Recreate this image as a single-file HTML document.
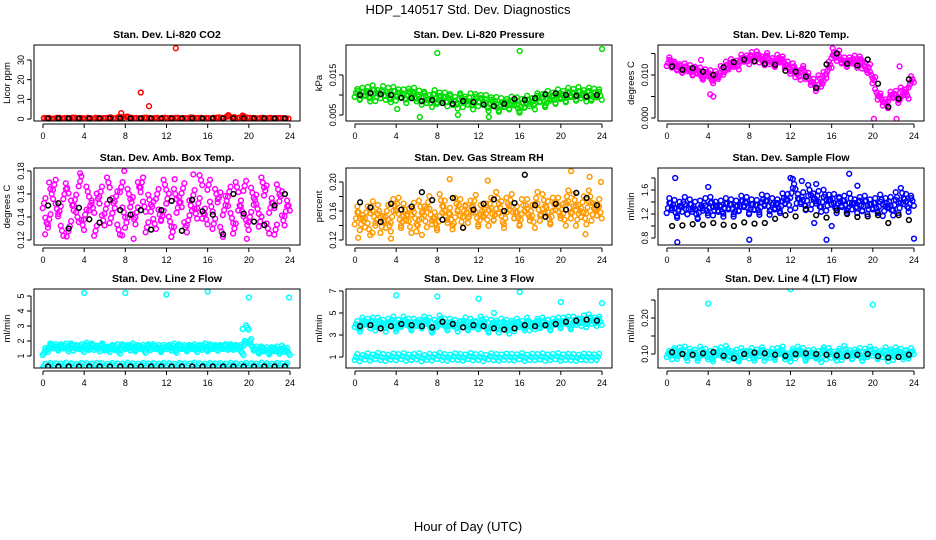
<!DOCTYPE html>
<html><head><meta charset="utf-8"><style>
body{margin:0;background:#fff}
svg{display:block;font-family:"Liberation Sans",sans-serif}
</style></head><body>
<svg id="c" width="936" height="540" viewBox="0 0 936 540">
<text x="468" y="14" text-anchor="middle" font-size="13">HDP_140517  Std. Dev. Diagnostics</text>
<text x="468" y="531" text-anchor="middle" font-size="13">Hour of Day (UTC)</text>
</svg>
<script>
// ---- data ----
const co2A=[0.3,0.5,0.2,0.6,0.4,0.3,0.7,0.5,0.2,0.4,0.6,0.3,0.5,0.8,0.4,0.9,1.2,0.6,0.5,0.4,0.7,0.3,0.6,0.5,0.4,0.3,0.6,0.5,0.4,0.7,0.5,0.3,0.4,0.6,0.8,0.5,1.4,0.9,0.7,1.1,0.6,0.4,0.5,0.3,0.6,0.4,0.5,0.3];
const co2B=[0.4,0.2,0.6,0.3,0.5,0.7,0.3,0.4,0.6,0.2,0.5,0.4,0.7,0.3,1.0,0.6,0.8,0.4,0.3,0.6,0.5,0.4,0.2,0.7,0.5,0.6,0.3,0.4,0.8,0.4,0.6,0.5,0.3,0.7,0.6,1.2,0.8,0.5,1.0,0.7,0.5,0.3,0.6,0.4,0.3,0.5,0.4,0.2];
const co2K=[0.3,0.3,0.3,0.3,0.3,0.3,0.3,0.3,0.3,0.3,0.3,0.3,0.3,0.3,0.3,0.3,0.3,0.3,0.3,0.3,0.3,0.3,0.3,0.3];
const co2OX=[0.1,7.6,8.2,9.5,10.3,12.9,18,19.4];
const co2OY=[0.5,3,1.2,13.5,6.5,36,2,1.8];

const prA=[0.0105,0.0098,0.0110,0.0102,0.0095,0.0112,0.0108,0.0100,0.0096,0.0104,0.0099,0.0108,0.0101,0.0094,0.0090,0.0102,0.0088,0.0096,0.0092,0.0085,0.0090,0.0080,0.0094,0.0086,0.0082,0.0090,0.0078,0.0085,0.0072,0.0080,0.0076,0.0084,0.0070,0.0078,0.0082,0.0088,0.0092,0.0080,0.0096,0.0090,0.0100,0.0094,0.0105,0.0098,0.0102,0.0108,0.0096,0.0104];
const prB=[0.0100,0.0108,0.0094,0.0114,0.0102,0.0098,0.0092,0.0110,0.0104,0.0090,0.0106,0.0094,0.0086,0.0098,0.0080,0.0092,0.0096,0.0082,0.0088,0.0076,0.0094,0.0086,0.0074,0.0092,0.0090,0.0070,0.0084,0.0068,0.0082,0.0074,0.0086,0.0066,0.0080,0.0088,0.0074,0.0094,0.0084,0.0100,0.0088,0.0104,0.0092,0.0108,0.0096,0.0110,0.0094,0.0100,0.0106,0.0098];
const prK=[0.0100,0.0105,0.0102,0.0100,0.0093,0.0092,0.0085,0.0087,0.0080,0.0078,0.0085,0.0082,0.0076,0.0072,0.0078,0.0090,0.0088,0.0092,0.0102,0.0104,0.0100,0.0098,0.0096,0.0100];
const prOX=[8,16,24,6.3,13,10,4.1];
const prOY=[0.0205,0.021,0.0215,0.0045,0.0045,0.005,0.0065];

const tpA=[0.0128,0.0124,0.0118,0.0112,0.0116,0.0108,0.0110,0.0100,0.0104,0.0094,0.0098,0.0108,0.0120,0.0126,0.0132,0.0138,0.0146,0.0140,0.0136,0.0144,0.0132,0.0128,0.0136,0.0124,0.0110,0.0102,0.0114,0.0098,0.0084,0.0070,0.0080,0.0110,0.0146,0.0150,0.0134,0.0128,0.0138,0.0130,0.0122,0.0118,0.0088,0.0050,0.0036,0.0046,0.0056,0.0042,0.0060,0.0078];
const tpB=[0.0134,0.0120,0.0114,0.0120,0.0106,0.0112,0.0096,0.0106,0.0088,0.0102,0.0114,0.0124,0.0130,0.0120,0.0140,0.0132,0.0138,0.0148,0.0130,0.0138,0.0126,0.0140,0.0130,0.0116,0.0120,0.0096,0.0108,0.0090,0.0076,0.0092,0.0100,0.0124,0.0140,0.0136,0.0126,0.0134,0.0124,0.0136,0.0112,0.0100,0.0060,0.0044,0.0030,0.0054,0.0048,0.0064,0.0052,0.0090];
const tpK=[0.0120,0.0112,0.0116,0.0108,0.0100,0.0118,0.0130,0.0136,0.0132,0.0126,0.0124,0.0110,0.0108,0.0096,0.0070,0.0125,0.0150,0.0126,0.0122,0.0136,0.0080,0.0026,0.0045,0.0090];
const tpOX=[4.2,4.5,16.1,20.1,22.3,22.6,3.3];
const tpOY=[0.0055,0.0050,0.0162,-0.0002,-0.0002,0.012,0.0135];

const abA=[0.152,0.138,0.168,0.145,0.160,0.132,0.155,0.171,0.142,0.150,0.128,0.162,0.147,0.139,0.158,0.166,0.135,0.153,0.144,0.170,0.131,0.149,0.160,0.141,0.156,0.127,0.148,0.165,0.137,0.159,0.152,0.143,0.168,0.134,0.157,0.146,0.162,0.130,0.150,0.167,0.140,0.155,0.136,0.163,0.148,0.129,0.158,0.145];
const abB=[0.135,0.160,0.147,0.128,0.165,0.150,0.140,0.133,0.162,0.148,0.156,0.137,0.170,0.152,0.129,0.144,0.160,0.138,0.166,0.149,0.155,0.134,0.142,0.168,0.136,0.160,0.153,0.131,0.150,0.143,0.172,0.138,0.149,0.160,0.127,0.154,0.139,0.166,0.145,0.133,0.161,0.147,0.170,0.130,0.152,0.164,0.137,0.150];
const abK=[0.150,0.152,0.130,0.148,0.138,0.135,0.155,0.146,0.142,0.146,0.129,0.146,0.154,0.128,0.155,0.145,0.142,0.125,0.160,0.143,0.136,0.133,0.150,0.160];
const abOX=[0.2,3.6,7.9,7.7,8.8,12.8,14.6,2.3,19.8,0.6];
const abOY=[0.125,0.178,0.180,0.124,0.121,0.173,0.177,0.123,0.121,0.170];

const rhA=[0.150,0.142,0.158,0.165,0.148,0.138,0.160,0.152,0.170,0.145,0.155,0.163,0.140,0.158,0.172,0.150,0.145,0.166,0.156,0.143,0.168,0.160,0.152,0.174,0.147,0.162,0.170,0.155,0.165,0.150,0.175,0.158,0.148,0.168,0.160,0.178,0.155,0.165,0.152,0.170,0.162,0.180,0.158,0.148,0.172,0.165,0.155,0.168];
const rhB=[0.158,0.146,0.135,0.152,0.160,0.145,0.140,0.168,0.148,0.162,0.138,0.150,0.166,0.146,0.155,0.142,0.175,0.152,0.148,0.170,0.145,0.158,0.166,0.150,0.160,0.148,0.156,0.178,0.145,0.170,0.158,0.150,0.168,0.155,0.145,0.162,0.175,0.150,0.170,0.158,0.148,0.165,0.175,0.160,0.150,0.180,0.162,0.158];
const rhK=[0.172,0.165,0.145,0.170,0.162,0.166,0.186,0.175,0.148,0.178,0.137,0.162,0.170,0.176,0.160,0.171,0.210,0.168,0.152,0.170,0.162,0.185,0.178,0.168];
const rhOX=[0.3,1.7,3.5,9.2,12.9,21,22.8,23.9,6.5,22.4];
const rhOY=[0.123,0.130,0.122,0.204,0.202,0.215,0.207,0.200,0.127,0.128];

const sfA=[1.30,1.35,1.25,1.40,1.28,1.32,1.22,1.38,1.30,1.26,1.34,1.29,1.36,1.24,1.33,1.40,1.28,1.35,1.31,1.42,1.27,1.36,1.33,1.45,1.55,1.38,1.48,1.42,1.36,1.50,1.40,1.34,1.45,1.38,1.42,1.30,1.36,1.40,1.33,1.28,1.38,1.32,1.25,1.40,1.35,1.30,1.45,1.38];
const sfB=[1.38,1.22,1.32,1.28,1.36,1.20,1.34,1.26,1.40,1.32,1.24,1.38,1.28,1.34,1.42,1.30,1.36,1.27,1.44,1.33,1.38,1.30,1.46,1.35,1.70,1.45,1.35,1.60,1.46,1.32,1.52,1.44,1.30,1.40,1.34,1.46,1.30,1.34,1.42,1.36,1.30,1.44,1.38,1.26,1.48,1.55,1.32,1.42];
const sfK=[1.00,1.01,1.03,1.02,1.05,1.02,1.00,1.06,1.04,1.05,1.12,1.18,1.16,1.28,1.18,1.14,1.26,1.20,1.15,1.16,1.18,1.05,1.18,1.10];
const sfOX=[0.8,1.0,4.0,8.0,12.0,13.1,14.5,15.5,16.0,17.7,18.5,24,14.3];
const sfOY=[1.80,0.73,1.65,0.77,1.80,1.75,1.70,0.77,1.00,1.87,1.67,0.79,1.05];

const l2A=[1.2,1.6,1.65,1.55,1.7,1.6,1.5,1.65,1.75,1.6,1.55,1.7,1.5,1.6,1.65,1.55,1.6,1.7,1.5,1.6,1.65,1.55,1.6,1.45,1.6,1.7,1.55,1.6,1.5,1.65,1.6,1.7,1.55,1.6,1.5,1.65,1.6,1.55,1.6,1.8,2.0,1.5,1.4,1.45,1.35,1.5,1.3,1.4];
const l2B=[1.4,1.7,1.5,1.65,1.45,1.7,1.6,1.4,1.55,1.7,1.45,1.6,1.4,1.55,1.3,1.65,1.5,1.45,1.6,1.35,1.55,1.65,1.4,1.6,1.5,1.35,1.65,1.45,1.6,1.4,1.55,1.45,1.65,1.5,1.6,1.55,1.65,1.6,1.2,2.9,1.6,1.3,1.5,1.25,1.45,1.3,1.55,1.2];
const l2C=[0.35,0.4,0.38,0.36,0.42,0.37,0.35,0.4,0.39,0.36,0.41,0.38,0.35,0.4,0.37,0.36,0.42,0.38,0.35,0.4,0.37,0.39,0.36,0.41,0.38,0.35,0.4,0.37,0.36,0.42,0.38,0.35,0.4,0.37,0.39,0.36,0.41,0.38,0.35,0.4,0.37,0.36,0.42,0.38,0.35,0.4,0.37,0.39];
const l2K=[0.3,0.3,0.3,0.3,0.3,0.3,0.3,0.3,0.3,0.3,0.3,0.3,0.3,0.3,0.3,0.3,0.3,0.3,0.3,0.3,0.3,0.3,0.3,0.3];
const l2OX=[4,8,12,16,19.4,19.6,20,23.9];
const l2OY=[5.2,5.2,5.1,5.3,2.8,2.0,4.9,4.9];

const l3A=[4.0,3.8,4.2,4.3,3.7,4.1,3.9,4.4,3.6,4.0,4.2,3.8,4.1,3.9,4.3,3.5,4.0,4.2,3.8,4.1,3.9,4.3,3.7,4.0,3.8,4.2,3.6,4.0,3.5,4.1,3.8,3.6,4.0,3.9,3.7,4.2,3.9,4.1,3.8,4.3,4.0,4.4,3.9,4.2,4.5,4.0,4.3,4.4];
const l3B=[3.6,4.3,3.9,4.0,4.3,3.6,4.2,3.8,4.1,4.4,3.7,4.2,3.9,4.4,3.6,4.1,4.5,3.7,4.2,3.6,4.0,3.8,4.2,3.9,4.4,3.5,4.1,3.8,4.2,3.4,4.0,4.2,3.7,4.3,3.8,4.0,4.3,3.7,4.2,3.9,4.3,3.8,4.4,4.1,4.0,4.6,4.1,4.2];
const l3C=[1.0,0.9,1.05,0.95,1.1,1.0,0.92,1.04,0.98,1.08,0.94,1.0,1.06,0.9,1.02,0.96,1.1,0.98,0.93,1.05,1.0,0.95,1.08,0.97,1.02,0.9,1.06,0.99,0.94,1.04,1.0,0.96,1.08,0.92,1.02,0.98,1.05,0.94,1.0,1.07,0.95,1.02,0.98,0.92,1.04,1.0,0.96,1.02];
const l3K=[3.8,3.9,3.6,3.8,4.0,3.9,3.8,3.7,4.2,4.0,3.7,3.9,3.8,3.6,3.5,3.6,3.9,3.8,3.9,4.0,4.2,4.3,4.4,4.3];
const l3OX=[4,8,12,16,20,24,13.5];
const l3OY=[6.6,6.5,6.3,6.9,6.0,5.9,5.0];

const l4A=[0.100,0.108,0.095,0.112,0.098,0.104,0.090,0.106,0.100,0.094,0.110,0.098,0.092,0.104,0.088,0.100,0.108,0.096,0.102,0.090,0.106,0.098,0.112,0.094,0.100,0.096,0.108,0.090,0.104,0.100,0.110,0.094,0.098,0.106,0.092,0.102,0.096,0.108,0.090,0.100,0.104,0.094,0.110,0.098,0.092,0.106,0.100,0.096];
const l4B=[0.094,0.102,0.110,0.090,0.106,0.096,0.112,0.094,0.088,0.106,0.098,0.114,0.100,0.092,0.108,0.096,0.090,0.104,0.110,0.098,0.092,0.108,0.100,0.088,0.106,0.112,0.094,0.102,0.096,0.086,0.104,0.108,0.090,0.100,0.114,0.094,0.104,0.090,0.106,0.112,0.096,0.100,0.088,0.104,0.110,0.094,0.102,0.108];
const l4K=[0.105,0.100,0.098,0.102,0.105,0.095,0.088,0.100,0.104,0.102,0.098,0.095,0.100,0.102,0.100,0.098,0.096,0.095,0.098,0.100,0.094,0.090,0.092,0.098];
const l4OX=[4,12,20];
const l4OY=[0.240,0.280,0.237];

const xTicks=[0,4,8,12,16,20,24];

// ---- layout / style ----
const cols=[[34,300],[346,612],[658,924]];
const rows=[[45,121],[168,245],[289,368]];
const panels=[
 {id:'co2',title:'Stan. Dev. Li-820 CO2',ylab:'Licor ppm',c:0,r:0,col:'#f00',spread:0,v:[0,30],p:[119,60],ticks:[0,10,20,30],labels:['0','10','20','30'],ser:[co2A,co2B],k:co2K,ox:co2OX,oy:co2OY},
 {id:'pressure',title:'Stan. Dev. Li-820 Pressure',ylab:'kPa',c:1,r:0,col:'#0d0',spread:4,v:[0.005,0.015],p:[115,75],ticks:[0.005,0.010,0.015],labels:['0.005','','0.015'],ser:[prA,prB],k:prK,ox:prOX,oy:prOY},
 {id:'temp',title:'Stan. Dev. Li-820 Temp.',ylab:'degrees C',c:2,r:0,col:'#f0f',spread:3,v:[0,0.010],p:[118,75],ticks:[0,0.005,0.010,0.015],labels:['0.000','','0.010',''],ser:[tpA,tpB],k:tpK,ox:tpOX,oy:tpOY},
 {id:'ambtemp',title:'Stan. Dev. Amb. Box Temp.',ylab:'degrees C',c:0,r:1,col:'#f0f',spread:5,v:[0.12,0.18],p:[240,171],ticks:[0.12,0.14,0.16,0.18],labels:['0.12','0.14','0.16','0.18'],ser:[abA,abB],k:abK,ox:abOX,oy:abOY},
 {id:'rh',title:'Stan. Dev. Gas Stream RH',ylab:'percent',c:1,r:1,col:'#f90',spread:6,v:[0.12,0.20],p:[240,182],ticks:[0.12,0.14,0.16,0.18,0.20],labels:['0.12','','0.16','','0.20'],ser:[rhA,rhB],k:rhK,ox:rhOX,oy:rhOY},
 {id:'sampleflow',title:'Stan. Dev. Sample Flow',ylab:'ml/min',c:2,r:1,col:'#00f',spread:5,v:[0.8,1.6],p:[238,190],ticks:[0.8,1.0,1.2,1.4,1.6,1.8],labels:['0.8','','1.2','','1.6',''],ser:[sfA,sfB],k:sfK,ox:sfOX,oy:sfOY},
 {id:'line2',title:'Stan. Dev. Line 2 Flow',ylab:'ml/min',c:0,r:2,col:'#0ff',spread:2,v:[1,5],p:[356,296],ticks:[1,2,3,4,5],labels:['1','2','3','4','5'],ser:[l2A,l2B,l2C],k:l2K,ox:l2OX,oy:l2OY},
 {id:'line3',title:'Stan. Dev. Line 3 Flow',ylab:'ml/min',c:1,r:2,col:'#0ff',spread:3,v:[1,7],p:[357,291],ticks:[1,3,5,7],labels:['1','3','5','7'],ser:[l3A,l3B,l3C],k:l3K,ox:l3OX,oy:l3OY},
 {id:'line4',title:'Stan. Dev. Line 4 (LT) Flow',ylab:'ml/min',c:2,r:2,col:'#0ff',spread:3,v:[0.10,0.20],p:[354,318],ticks:[0.10,0.15,0.20,0.25],labels:['0.10','','0.20',''],ser:[l4A,l4B],k:l4K,ox:l4OX,oy:l4OY}
];
// marker cluster offsets (drawing style: hour offset, pixel offset factor)
const clusterDX=[0,-0.13,0.13];
const clusterDY=[0,1,-1];
const svg=document.getElementById('c');
const NS='http://www.w3.org/2000/svg';
function mk(tag,attrs,parent){const e=document.createElementNS(NS,tag);for(const k in attrs)e.setAttribute(k,attrs[k]);parent.appendChild(e);return e;}

panels.forEach(pn=>{
 const [L,R]=cols[pn.c],[T,B]=rows[pn.r];
 const x0=L+9,x1=R-10;
 const xs=h=>x0+(x1-x0)*h/24;
 const ys=v=>pn.p[0]+(pn.p[1]-pn.p[0])*(v-pn.v[0])/(pn.v[1]-pn.v[0]);
 const g=mk('g',{},svg);
 
 
 const t=mk('text',{x:(L+R)/2,y:T-7,'text-anchor':'middle','font-size':'10.5','font-weight':'bold'},g);
 t.textContent=pn.title;
 
 
 const clip=mk('clipPath',{id:'cl'+pn.id},g);
 mk('rect',{x:L,y:T,width:R-L,height:B-T},clip);
 const pts=mk('g',{'clip-path':'url(#cl'+pn.id+')',fill:'none','stroke-width':'1.5'},g);
 
 
 const nc=pn.spread>0?3:1;
 pn.ser.forEach((arr,si)=>{
  arr.forEach((v,i)=>{
   const h=i*0.5+(si%2?0.25:0)+0.1;
   for(let j=0;j<nc;j++){
    const c=mk('circle',{cx:xs(h+clusterDX[j]).toFixed(1),cy:(ys(v)+clusterDY[j]*pn.spread*(si%2?-1:1)).toFixed(1),r:2.4,stroke:pn.col},pts);
    
    
   }
  });
 });
 pn.ox.forEach((h,i)=>{
  const c=mk('circle',{cx:xs(h).toFixed(1),cy:ys(pn.oy[i]).toFixed(1),r:2.4,stroke:pn.col},pts);
  
  
 });
 pn.k.forEach((v,i)=>{
  const c=mk('circle',{cx:xs(i+0.5).toFixed(1),cy:ys(v).toFixed(1),r:2.4,stroke:'#000'},pts);
  
  
 });
 const box=mk('rect',{x:L,y:T,width:R-L,height:B-T,fill:'none',stroke:'#000','stroke-width':'1'},g);
 
 
 const xa=mk('g',{stroke:'#000','font-size':'9'},g);
 
 
 mk('line',{x1:xs(0),x2:xs(24),y1:B+3,y2:B+3},xa);
 xTicks.forEach(h=>{
  mk('line',{x1:xs(h),x2:xs(h),y1:B+3,y2:B+7},xa);
  const tl=mk('text',{x:xs(h),y:B+18,'text-anchor':'middle',stroke:'none'},xa);
  tl.textContent=h;
  
  
 });
 const ya=mk('g',{stroke:'#000','font-size':'9'},g);
 
 
 const yt=pn.ticks.filter(v=>ys(v)>=T-1&&ys(v)<=B+1);
 mk('line',{x1:L-3,x2:L-3,y1:ys(yt[0]),y2:ys(yt[yt.length-1])},ya);
 pn.ticks.forEach((v,i)=>{
  const y=ys(v); if(y<T-1||y>B+1)return;
  mk('line',{x1:L-3,x2:L-7,y1:y,y2:y},ya);
  if(pn.labels[i]){
   const tl=mk('text',{x:L-10,y:y,'text-anchor':'middle',stroke:'none',transform:`rotate(-90 ${L-10} ${y})`},ya);
   tl.textContent=pn.labels[i];
   
   
  }
 });
 const yl=mk('text',{x:L-24,y:(T+B)/2,'text-anchor':'middle','font-size':'9.5',transform:`rotate(-90 ${L-24} ${(T+B)/2})`},g);
 yl.textContent=pn.ylab;
 
 
});
</script>
</body></html>
